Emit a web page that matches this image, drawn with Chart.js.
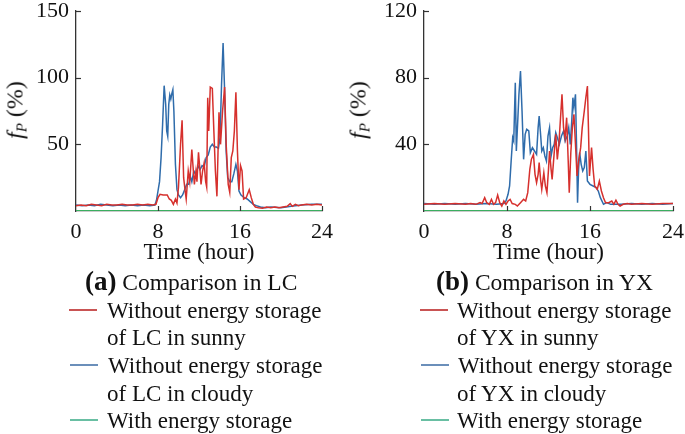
<!DOCTYPE html>
<html>
<head>
<meta charset="utf-8">
<script src="https://cdn.jsdelivr.net/npm/chart.js@4.4.1/dist/chart.umd.min.js"></script>
<style>
  html, body { margin: 0; padding: 0; background: #fff; }
  body { width: 685px; height: 434px; position: relative; overflow: hidden;
         font-family: 'Liberation Serif', 'DejaVu Serif', serif; color: #111; }
  canvas { position: absolute; top: 0; }
  .ytitle { position: absolute; white-space: nowrap; font-size: 24px;
            transform: translate(-50%, -50%) rotate(-90deg); }
  .ytitle sub { font-size: 15px; vertical-align: -4px; }
  .txt { position: absolute; white-space: nowrap; font-size: 23px; line-height: 1; }
  .swatch { position: absolute; height: 1.5px; width: 28px; }
</style>
</head>
<body>
<canvas id="lc" width="340" height="267" style="left:0"></canvas>
<canvas id="yx" width="345" height="267" style="left:340px"></canvas>

<div class="ytitle" style="left:16px; top:110px"><i>f</i><sub><i>P</i></sub> (%)</div>
<div class="ytitle" style="left:359px; top:110px"><i>f</i><sub><i>P</i></sub> (%)</div>

<div class="txt" style="left:85px; top:268px; font-size:23.5px"><b style="font-size:27px">(a)</b>&nbsp;Comparison in LC</div>
<div class="txt" style="left:436px; top:268px; font-size:23.5px"><b style="font-size:27px">(b)</b>&nbsp;Comparison in YX</div>

<div class="swatch" style="left:69px; top:309px; background:#c95454"></div>
<div class="txt" style="left:107px; top:299px">Without energy storage</div>
<div class="txt" style="left:107px; top:326px">of LC in sunny</div>
<div class="swatch" style="left:70px; top:364px; background:#6b8fba"></div>
<div class="txt" style="left:108px; top:354px">Without energy storage</div>
<div class="txt" style="left:107px; top:382px">of LC in cloudy</div>
<div class="swatch" style="left:70px; top:419px; background:#69bfa3"></div>
<div class="txt" style="left:107px; top:409px">With energy storage</div>

<div class="swatch" style="left:420px; top:309px; background:#c95454"></div>
<div class="txt" style="left:457px; top:299px">Without energy storage</div>
<div class="txt" style="left:457px; top:326px">of YX in sunny</div>
<div class="swatch" style="left:421px; top:364px; background:#6b8fba"></div>
<div class="txt" style="left:458px; top:354px">Without energy storage</div>
<div class="txt" style="left:457px; top:382px">of YX in cloudy</div>
<div class="swatch" style="left:421px; top:419px; background:#69bfa3"></div>
<div class="txt" style="left:457px; top:409px">With energy storage</div>

<script>
// axis ticks
const hourTicks = [0, 8, 16, 24];
const lcTicks = [0, 50, 100, 150];
const yxTicks = [0, 40, 80, 120];

// [hour, fP %]
const lcSunny = [[0,4],[0.5,4.5],[1,4],[1.5,5],[2,4.5],[2.5,4],[3,5],[3.5,4.5],[4,4.5],[4.5,5],[5,4.5],[5.5,4.5],[6,5],[6.5,4.5],[7,5],[7.5,4.5],
  [7.8,5],[8.0,10],[8.2,12.5],[8.5,12],[8.9,12],[9.1,9],[9.3,8],[9.5,5],[9.7,9],[9.85,6],
  [10.0,18],[10.2,50],[10.35,68],[10.5,25],[10.65,15],[10.75,9],[10.95,30],[11.1,22],[11.3,46],[11.45,30],
  [11.55,20],[11.7,30],[11.8,22],[11.95,44],[12.1,30],[12.2,20],[12.35,30],[12.5,36],[12.65,22],[12.75,18],
  [12.85,85],[12.95,60],[13.1,93],[13.3,92],[13.45,60],[13.6,30],[13.75,11],[13.95,74],[14.1,50],[14.3,75],
  [14.5,93],[14.65,50],[14.85,20],[15.0,14],[15.15,40],[15.3,45],[15.45,60],[15.6,89],[15.75,45],[15.9,16],
  [16.05,34],[16.2,30],[16.35,9],[16.6,10],[16.9,16],[17.1,10],[17.3,5],[17.5,3],[17.8,2.5],[18.2,2],
  [18.6,3],[19,2.5],[19.4,3],[19.8,2.5],[20.2,3],[20.6,3.5],[20.9,5.5],[21.1,3.5],[21.4,5],[21.7,4],
  [22,4.5],[22.5,5],[23,4.5],[23.5,5],[24,4.5]];

const lcCloudy = [[0,4.5],[0.6,4],[1.2,4.5],[1.8,4],[2.4,5],[3,4.5],[3.6,4],[4.2,4.5],[4.8,4],[5.4,4.5],[6,4],[6.6,4.5],[7.2,4],[7.7,4.5],
  [7.85,8],[8.0,15],[8.15,22],[8.3,40],[8.45,65],[8.6,94],[8.75,80],[8.85,60],[8.95,56],[9.05,80],[9.15,87],[9.25,84],[9.35,88],[9.45,91],[9.55,75],[9.7,35],[9.85,16],
  [10.0,12],[10.2,10],[10.4,12],[10.6,16],[10.8,20],[11.0,20],[11.15,26],[11.3,22],[11.5,30],[11.7,27],[11.9,34],[12.1,31],[12.3,34],[12.5,33],[12.7,40],[12.9,42],
  [13.1,48],[13.3,50],[13.5,48],[13.7,48],[13.9,47],[14.05,55],[14.2,95],[14.35,126],[14.5,90],[14.65,45],[14.8,25],[15.0,22],[15.2,22],[15.4,28],[15.6,35],[15.75,30],[15.9,15],
  [16.1,12],[16.4,10],[16.7,9],[17.0,7],[17.3,5],[17.6,4],[18,3],[18.5,2.5],[19,3],[20,2.5],[21,3.5],[22,4.5],[23,5],[24,5]];

const yxSunny = [[0,4],[1,4.5],[2,4],[3,4.5],[4,4],[4.5,4.5],[5,4],[5.4,5],[5.6,4.5],[5.85,8],[6.05,5],[6.3,4],[6.5,7],[6.7,4],[6.9,5],[7.1,9.5],[7.3,5],[7.5,3],[7.7,6],[7.9,4],
  [8.1,6],[8.3,7],[8.5,4.5],[8.8,4],[9.0,3],[9.3,5],[9.6,7],[9.8,6],[10.0,11],[10.2,25],[10.35,31],[10.55,34],[10.7,22],[10.85,17],
  [11.0,22],[11.1,29],[11.25,18],[11.35,13],[11.55,23],[11.7,15],[11.85,11],[12.0,25],[12.1,36],[12.25,25],[12.35,19],[12.55,35],[12.7,46],[12.85,31],
  [13.0,40],[13.15,55],[13.3,70],[13.45,50],[13.6,44],[13.75,56],[13.9,30],[14.0,11],[14.15,35],[14.3,50],[14.45,58],[14.6,40],[14.75,21],[14.9,30],
  [15.1,38],[15.25,50],[15.45,60],[15.6,68],[15.75,75],[15.85,50],[15.95,21],[16.15,38],[16.3,25],[16.45,15],[16.7,13],[16.9,18],[17.1,12],[17.3,8],[17.5,5],
  [17.8,5],[18.1,6],[18.3,4],[18.5,6.5],[18.7,4],[18.9,3],[19.2,4],[19.6,4.5],[20,4],[21,4.5],[22,4],[23,4.5],[24,4.5]];

const yxCloudy = [[0,4.5],[1,4],[2,4.5],[3,4],[4,4.5],[5,4],[6,4.5],[7,4],[7.7,4.5],[7.9,6],[8.1,10],[8.25,15],[8.4,30],[8.55,44],[8.65,42],[8.8,77],[8.9,36],
  [9.05,56],[9.15,70],[9.3,84],[9.45,60],[9.6,31],[9.75,46],[9.9,49],[10.1,48],[10.25,35],[10.45,38],[10.65,36],[10.85,34],[11.0,50],[11.1,57],[11.25,45],[11.35,36],
  [11.5,38],[11.65,33],[11.8,30],[11.95,45],[12.1,50],[12.25,33],[12.4,38],[12.55,40],[12.7,47],[12.9,43],[13.05,40],[13.25,45],[13.45,48],[13.6,42],[13.8,45],
  [13.95,50],[14.1,40],[14.25,55],[14.35,68],[14.45,62],[14.6,70],[14.7,40],[14.8,5],[14.9,25],[15.0,35],[15.15,28],[15.3,24],[15.45,26],[15.6,36],[15.75,18],
  [16.0,16],[16.3,15],[16.6,14],[16.8,12],[17.0,8],[17.3,4],[17.6,5],[18,4],[19,4],[20,4.5],[21,4],[22,4.5],[23,4],[24,4.5]];

const withStorage = [[0,0],[24,0]];

const RED = '#d6302d', BLUE = '#2f6cab', GREEN = '#3aae60';
const FONT = "'Liberation Serif', serif";

function pts(arr) { return arr.map(p => ({ x: p[0], y: p[1] })); }

// short inward tick marks, like the original axes
const innerTicks = {
    id: 'innerTicks',
    afterDraw(chart) {
        const { ctx, chartArea, scales: { x, y } } = chart;
        ctx.save();
        ctx.strokeStyle = '#333';
        ctx.lineWidth = 1.2;
        x.ticks.forEach(t => {
            if (t.value === 0) return;
            const px = Math.round(x.getPixelForValue(t.value)) + 0.5;
            ctx.beginPath();
            ctx.moveTo(px, chartArea.bottom);
            ctx.lineTo(px, chartArea.bottom - 5);
            ctx.stroke();
        });
        y.ticks.forEach(t => {
            if (t.value === 0) return;
            const py = Math.round(y.getPixelForValue(t.value)) + 0.5;
            ctx.beginPath();
            ctx.moveTo(chartArea.left, py);
            ctx.lineTo(chartArea.left + 5, py);
            ctx.stroke();
        });
        ctx.restore();
    }
};

function makeChart(id, sunny, cloudy, yTicks, yWidth, padRight) {
    const yMax = yTicks[yTicks.length - 1];
    return new Chart(document.getElementById(id), {
        type: 'line',
        data: {
            datasets: [
                { data: pts(withStorage), borderColor: GREEN, borderWidth: 2.2 },
                { data: pts(sunny), borderColor: RED, borderWidth: 1.5 },
                { data: pts(cloudy), borderColor: BLUE, borderWidth: 1.5 }
            ]
        },
        options: {
            responsive: false,
            animation: false,
            events: [],
            elements: { point: { radius: 0 }, line: { tension: 0 } },
            layout: { padding: { left: 0, right: padRight, top: 11, bottom: 0 } },
            plugins: { legend: { display: false }, tooltip: { enabled: false } },
            scales: {
                x: {
                    type: 'linear', min: hourTicks[0], max: hourTicks[hourTicks.length - 1],
                    afterBuildTicks: s => { s.ticks = hourTicks.map(v => ({ value: v })); },
                    afterFit: s => { s.height = 56; s.paddingLeft = 0; s.paddingRight = 0; },
                    grid: { drawOnChartArea: false, drawTicks: false },
                    border: { display: true, color: '#333', width: 1.2 },
                    ticks: { padding: 8, color: '#111', font: { family: FONT, size: 22 }, maxRotation: 0 },
                    title: { display: true, text: 'Time (hour)', color: '#111', padding: 0,
                             font: { family: FONT, size: 23 } }
                },
                y: {
                    min: 0, max: yMax,
                    afterBuildTicks: s => { s.ticks = yTicks.map(v => ({ value: v })); },
                    afterFit: s => { s.width = yWidth; s.paddingTop = 0; s.paddingBottom = 0; },
                    grid: { drawOnChartArea: false, drawTicks: false },
                    border: { display: true, color: '#333', width: 1.3 },
                    ticks: { padding: 7, color: '#111', font: { family: FONT, size: 22 },
                             callback: v => (v === 0 ? '' : v) }
                }
            }
        },
        plugins: [innerTicks]
    });
}

makeChart('lc', lcSunny, lcCloudy, lcTicks, 76, 18);
makeChart('yx', yxSunny, yxCloudy, yxTicks, 84, 12);
</script>
</body>
</html>
